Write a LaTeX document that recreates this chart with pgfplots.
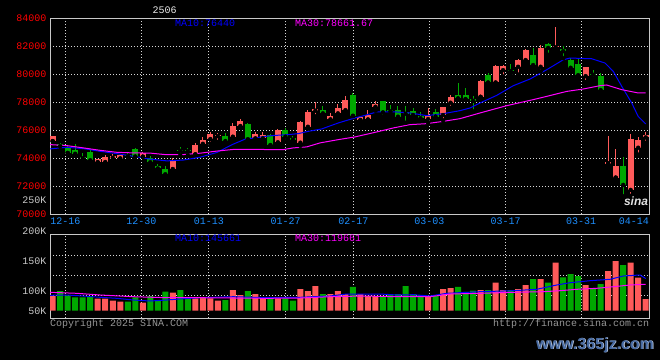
\documentclass[border=0pt]{standalone}
\usepackage{fontspec}
\setmainfont{Liberation Mono}
\newfontfamily\wmfont{Liberation Sans}
\usepackage{pgfplots}
\pgfplotsset{compat=1.18}
\usepackage{pgfplotstable}

\definecolor{upc}{RGB}{255,90,90}
\definecolor{dnc}{RGB}{0,168,0}
\definecolor{maA}{RGB}{0,0,255}
\definecolor{maB}{RGB}{255,0,255}
\definecolor{framec}{RGB}{200,200,200}
\definecolor{gridc}{RGB}{215,215,215}
\definecolor{pricec}{RGB}{255,0,0}
\definecolor{datec}{RGB}{30,144,255}
\definecolor{volc}{RGB}{200,200,200}
\definecolor{copyc}{RGB}{150,150,150}
\definecolor{wmc}{RGB}{70,105,160}

% up candles: index open high low close volume(K)
\pgfplotstableread{
i o h l c v
0 75250 75600 75200 75560 66.1
6 73730 73960 73700 73930 53.8
7 73750 74200 73600 74100 53.8
8 74050 74300 73900 74150 44.7
9 74010 74250 73950 74200 40.1
12 74130 74420 74100 74380 35.6
16 73250 74000 73100 73770 81.2
19 74300 75050 74250 74960 55.6
20 75050 75500 74950 75320 60.2
21 75390 75900 75020 75730 55.6
22 75600 75800 75160 75650 44.7
24 75560 76500 75480 76320 93.5
25 76320 76800 76160 76630 70.7
27 75440 75900 75250 75750 75.2
28 75440 75840 75320 75680 55.6
30 75160 76100 75050 75980 55.6
33 75130 76650 74880 76560 98.0
34 76270 77450 76100 77300 88.9
35 77420 78010 76990 77470 111.7
37 76800 77200 76600 77040 75.2
38 77230 77900 77030 77590 88.9
39 77460 78420 77160 78180 75.2
41 76750 77000 76700 76920 75.2
42 76800 77450 76700 77110 66.1
43 77700 78060 77390 77870 66.1
50 76820 77550 76520 77040 66.1
52 77110 77680 76700 77630 98.0
53 77990 78540 77590 78340 102.6
57 78410 79600 78380 79490 93.5
59 79440 80640 79370 80560 126.8
60 80320 80650 79840 80610 93.5
62 80560 81070 79980 80990 98.0
63 81040 81830 80790 81750 116.3
65 80560 82060 80200 81870 143.6
67 81960 83410 81700 82040 218.0
71 79890 80510 79440 80510 116.3
74 73630 75560 73630 73660 180.1
75 72630 74680 72600 73460 225.7
77 71750 75750 71300 75370 218.0
78 74770 75500 74250 75320 149.6
79 75510 75840 75090 75680 52.4
}\upt

% down candles
\pgfplotstableread{
i o h l c v
1 75040 75100 74560 74890 88.9
2 74770 74960 74370 74390 69.3
3 74580 75000 74250 74340 60.2
4 74080 74340 73890 74010 60.2
5 74400 74600 73630 73870 66.1
10 74230 74350 74080 74150 40.1
11 74680 74700 74100 74130 60.2
13 74010 74180 73600 73730 66.1
14 73420 73610 73060 73290 47.9
15 73230 73460 72770 72870 85.7
17 74600 74800 74200 74550 93.5
18 74580 74750 74200 74520 55.6
23 75560 75800 75080 75250 47.9
26 76440 76500 75300 75380 88.9
29 75620 75700 74890 74960 55.6
31 76040 76160 75200 75560 55.6
32 75420 75560 75130 75350 44.7
36 77460 77700 77080 77230 75.2
40 78540 78650 77000 77060 107.2
44 78060 78060 76960 77300 66.1
45 77420 77770 77180 77380 75.2
46 77460 77700 76850 76990 75.2
47 77300 77700 76520 77200 111.7
48 77390 77600 76900 77110 75.2
49 77000 77300 76700 76880 70.7
51 77270 77500 76850 77000 66.1
54 78540 79370 78250 78300 107.2
55 78540 79000 78180 78250 84.4
56 78230 78420 77340 78130 90.3
58 79960 80090 79370 79440 93.5
61 80300 80750 79970 80250 93.5
64 81390 81870 80560 80680 143.6
66 82140 82200 81390 81910 126.8
68 81790 82000 81150 81680 151.4
69 81040 81180 80340 80490 166.4
70 80750 81160 79800 79960 157.3
72 80050 80320 79660 79990 101.2
73 79890 80090 78700 78890 120.8
76 73460 74080 71270 72110 207.5
}\dnt

\pgfplotstableread{
i p
-0.36 74657
1.87 74771
4.08 74678
6.30 74486
8.53 74321
10.74 74129
12.96 73930
15.19 73800
17.40 73860
19.62 74060
21.85 74400
24.06 75000
25.62 75350
27.62 75500
29.18 75607
31.39 75679
32.72 75750
34.05 75914
35.84 76086
38.05 76514
40.27 76871
41.61 77057
43.17 77300
45.83 77300
47.60 77229
49.83 77036
52.04 77179
54.26 77393
55.60 77586
56.93 77943
59.15 78486
61.36 79179
63.59 79657
65.81 80321
68.03 81036
68.92 81157
71.81 81107
73.58 80800
74.69 80200
75.81 79129
77.14 77943
78.00 76976
79.00 76440
}\maten

\pgfplotstableread{
i p
-0.36 74964
1.87 74893
4.08 74729
6.30 74557
8.53 74414
10.74 74371
12.96 74357
15.19 74240
17.40 74250
19.62 74350
21.85 74500
24.06 74620
26.29 74620
30.72 74607
32.05 74729
33.84 74800
35.61 75086
38.05 75321
40.27 75514
41.61 75679
43.17 75871
45.38 76157
47.60 76393
49.83 76464
52.04 76629
54.26 76821
56.93 77229
60.49 77750
63.59 78129
65.81 78414
68.48 78771
70.69 78943
72.91 79179
73.80 79229
75.81 78893
78.02 78657
79.00 78662
}\mathirty

\pgfplotstableread{
i v
-0.36 69.3
1.87 70.7
4.08 66.1
6.30 60.2
8.53 55.6
10.74 47.9
12.96 43.3
15.19 47.9
17.40 53.8
19.62 58.4
24.06 62.9
28.51 58.4
32.95 60.2
36.94 66.1
39.17 75.2
43.61 75.2
45.83 70.7
48.04 72.0
50.26 66.1
52.49 78.4
56.93 85.7
61.36 90.3
64.48 96.7
67.15 116.3
68.92 126.8
71.58 135.9
74.25 142.3
76.02 157.3
78.24 161.9
79.00 145.7
}\vmaten

\pgfplotstableread{
i v
-0.36 83.0
3.20 78.4
6.30 70.7
10.74 62.9
15.19 58.4
19.62 58.4
24.06 57.0
28.51 55.6
32.95 57.0
36.94 62.9
41.38 66.1
45.83 62.9
50.26 62.9
52.93 75.2
56.93 78.4
61.36 83.0
65.36 85.7
67.59 90.3
69.81 96.7
72.48 101.2
74.69 108.5
76.91 116.3
79.00 119.7
}\vmathirty

\pgfplotsset{
  kchart/.style={
    scale only axis, anchor=south west,
    width=599.3pt,
    xmin=-0.36, xmax=79.48,
    scaled x ticks=false, scaled y ticks=false,
    axis line style={framec, line width=1pt},
    xtick={1.68,11.8,20.82,31.04,40.05,50.17,60.35,70.38},
    major tick length=0pt,
    grid=major,
    major grid style={gridc, line width=1pt, dash pattern=on 1pt off 2pt},
    tick label style={font=\fontsize{10}{12}\selectfont},
  },
}

% candles: one upward stroke from low to high (wick), one from min(o,c) (body)
\newcommand{\candles}[2]{%
  \addplot[only marks, mark=none, forget plot,
    error bars/.cd, y dir=plus, y explicit, error mark=none,
    error bar style={#2, line width=1pt}]
    table[x=i, y=l, y error expr={\thisrow{h}-\thisrow{l}}] {#1};
  \addplot[only marks, mark=none, forget plot,
    error bars/.cd, y dir=plus, y explicit, error mark=none,
    error bar style={#2, line width=6pt}]
    table[x=i, y expr={min(\thisrow{o},\thisrow{c})-30}, y error expr={max(abs(\thisrow{c}-\thisrow{o}),60)+30}] {#1};
}

\begin{document}
\begin{tikzpicture}
\fill[black] (0pt,0pt) rectangle (660pt,360pt);

% ---------------- price panel
\begin{axis}[kchart,
  at={(50pt,146pt)}, height=195.7pt,
  ymin=70000, ymax=84000,
  xticklabels={12-16,12-30,01-13,01-27,02-17,03-03,03-17,03-31},
  extra x ticks={77.44}, extra x tick labels={04-14},
  extra x tick style={grid=none},
  xticklabel style={datec},
  ytick={70000,72000,74000,76000,78000,80000,82000,84000},
  yticklabels={70000,72000,74000,76000,78000,80000,82000,84000},
  yticklabel style={pricec},
]
\candles{\upt}{upc}
\candles{\dnt}{dnc}
\addplot[maA, line width=1pt, mark=none] table[x=i,y=p] {\maten};
\addplot[maB, line width=1pt, mark=none] table[x=i,y=p] {\mathirty};
\end{axis}

% ---------------- volume panel
\begin{axis}[kchart,
  at={(50pt,41.7pt)}, height=83.6pt,
  ymin=-35.57, ymax=345.65,
  xticklabels={},
  ytick={69.3,160.5,251.7}, yticklabels={},
]
\addplot[ybar, bar width=6pt, bar shift=0pt, fill=upc, draw=none] table[x=i,y=v] {\upt};
\addplot[ybar, bar width=6pt, bar shift=0pt, fill=dnc, draw=none] table[x=i,y=v] {\dnt};
\addplot[maA, line width=1pt, mark=none] table[x=i,y=v] {\vmaten};
\addplot[maB, line width=1pt, mark=none] table[x=i,y=v] {\vmathirty};
\end{axis}

% ---------------- texts
\begin{scope}[every node/.style={inner sep=0pt, font=\fontsize{10}{12}\selectfont}]
\node[text={rgb,255:red,235;green,235;blue,235}] at (164.7pt,349.7pt) {2506};
\node[anchor=west, text=maA] at (175pt,336.7pt) {MA10:76440};
\node[anchor=west, text=maB] at (295pt,336.7pt) {MA30:78661.67};
\node[anchor=west, text=maA] at (175pt,121.7pt) {MA10:145661};
\node[anchor=west, text=maB] at (295pt,121.7pt) {MA30:119661};
\node[anchor=east, text=volc] at (46.7pt,160pt) {250K};
\node[anchor=east, text=volc] at (46.7pt,129pt) {200K};
\node[anchor=east, text=volc] at (46.7pt,99pt) {150K};
\node[anchor=east, text=volc] at (46.7pt,69.3pt) {100K};
\node[anchor=east, text=volc] at (46.7pt,49.3pt) {50K};
\node[anchor=west, text=copyc] at (50pt,36.5pt) {Copyright 2025 SINA.COM};
\node[anchor=east, text=copyc] at (649.3pt,36.5pt) {http://finance.sina.com.cn};
\node[text={rgb,255:red,225;green,225;blue,225}, font=\wmfont\bfseries\itshape\fontsize{12}{12}\selectfont] at (636pt,158.5pt) {sina};
\node[text={rgb,255:red,200;green,212;blue,232}, font=\wmfont\bfseries\fontsize{16}{16}\selectfont] at (595.8pt,14.2pt) {www.365jz.com};
\node[text=wmc, font=\wmfont\bfseries\fontsize{16}{16}\selectfont] at (595pt,15pt) {www.365jz.com};
\end{scope}
\pgfresetboundingbox
\path[use as bounding box] (0pt,0pt) rectangle (660pt,360pt);
\end{tikzpicture}
\end{document}
